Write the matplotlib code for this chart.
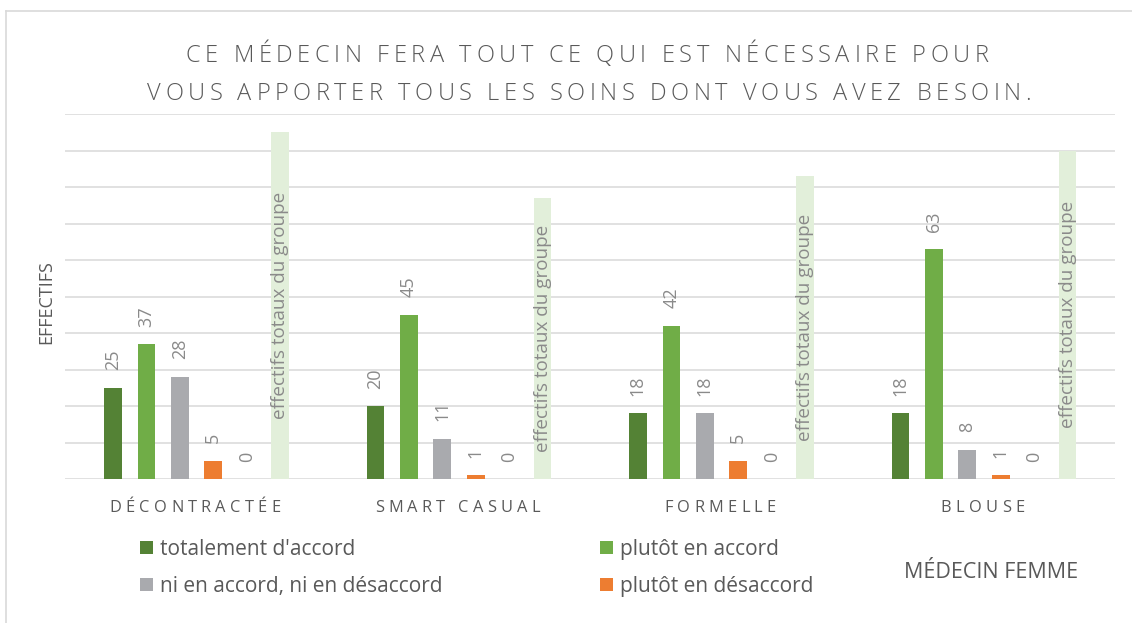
import matplotlib
matplotlib.use("Agg")
import matplotlib.pyplot as plt
from matplotlib import font_manager
from matplotlib.font_manager import FontProperties
from matplotlib.transforms import IdentityTransform
from matplotlib.patches import Patch
import numpy as np

# ---------------- data ----------------
categories = ["DÉCONTRACTÉE", "SMART CASUAL", "FORMELLE", "BLOUSE"]
series_names = ["totalement d'accord", "plutôt en accord",
                "ni en accord, ni en désaccord", "plutôt en désaccord",
                "totalement en désaccord"]
totalement_accord = [25, 20, 18, 18]
plutot_accord = [37, 45, 42, 63]
ni_accord_ni_desaccord = [28, 11, 18, 8]
plutot_desaccord = [5, 1, 5, 1]
totalement_desaccord = [0, 0, 0, 0]
effectifs_totaux = [95, 77, 83, 90]
total_label = "effectifs totaux du groupe"
title_lines = ["CE MÉDECIN FERA TOUT CE QUI EST NÉCESSAIRE POUR",
               "VOUS APPORTER TOUS LES SOINS DONT VOUS AVEZ BESOIN."]
y_label = "EFFECTIFS"
group_label = "MÉDECIN FEMME"

# ---------------- style ----------------
W, H, DPI = 1132, 623, 100
FONT = "Open Sans"
C_TEXT = "#595959"
C_VAL = "#8a8a8a"
C_GRID = "#d9d9d9"
colors = ["#548235", "#70ad47", "#a9aaae", "#ed7d31", "#a5a5a5"]
C_TOTAL = "#e2efda"

plt.rcParams["font.family"] = [FONT, "DejaVu Sans"]

fig = plt.figure(figsize=(W / DPI, H / DPI), dpi=DPI)
fig.patch.set_facecolor("white")

# plot area in pixels (from top-left)
PL, PR, PT, PB = 65.25, 1115.25, 114, 479
ax = fig.add_axes([PL / W, 1 - PB / H, (PR - PL) / W, (PB - PT) / H])

n_groups = len(categories)
x = np.arange(n_groups)
step = 0.1276
bw = 0.0667
all_series = [totalement_accord, plutot_accord, ni_accord_ni_desaccord,
              plutot_desaccord, totalement_desaccord]

ax.set_xlim(-0.5, n_groups - 0.5)
ax.set_ylim(0, 100)
ax.set_yticks(np.arange(0, 101, 10))
ax.yaxis.grid(True, color=C_GRID, linewidth=1.1)
ax.set_axisbelow(True)
for sp in ax.spines.values():
    sp.set_visible(False)
ax.tick_params(left=False, bottom=False, labelleft=False, labelbottom=False)

for k, vals in enumerate(all_series):
    off = (k - 2.5) * step
    ax.bar(x + off, vals, width=bw, color=colors[k], label=series_names[k], zorder=2)
    for xi, v in zip(x + off, vals):
        ax.annotate(str(v), (xi, v), xytext=(0, 12.5), textcoords="offset points",
                    rotation=90, ha="center", va="bottom", color=C_VAL, fontsize=13)

off_t = 2.5 * step
ax.bar(x + off_t, effectifs_totaux, width=bw, color=C_TOTAL, zorder=2)
for xi, v in zip(x + off_t, effectifs_totaux):
    ax.text(xi, v / 2, total_label, rotation=90, ha="center", va="center",
            color=C_VAL, fontsize=13.6, zorder=3)


# ---------------- letter-spaced text helper ----------------
def advances(s, fp):
    font = font_manager.get_font(font_manager.findfont(fp))
    font.set_size(fp.get_size_in_points(), DPI)
    out = []
    for ch in s:
        g = font.load_char(ord(ch))
        out.append(g.linearHoriAdvance / 65536)
    return out


def spaced_text(s, cx, y_base, fp, spacing=None, width=None, color=C_TEXT):
    """cx, y_base in display pixels (origin bottom-left)."""
    adv = advances(s, fp)
    if spacing is None:
        spacing = (width - sum(adv)) / (len(s) - 1)
    total = sum(adv) + spacing * (len(s) - 1)
    xx = cx - total / 2
    for ch, a in zip(s, adv):
        fig.text(xx, y_base, ch, fontproperties=fp, color=color,
                 ha="left", va="baseline", transform=IdentityTransform())
        xx += a + spacing


# title
fp_title = FontProperties(family=FONT, size=17, weight="light")
spaced_text(title_lines[0], 587, H - 62, fp_title, width=803)
spaced_text(title_lines[1], 589, H - 100, fp_title, width=884)

# category labels
fp_cat = FontProperties(family=FONT, size=11.8)
for i, c in enumerate(categories):
    px = ax.transData.transform((i, 0))[0]
    spaced_text(c, px - 1.5, H - 512, fp_cat, spacing=4.3)

# y label
fig.text(46 / W, 1 - 302 / H, y_label, rotation=90, ha="center", va="center",
         color=C_TEXT, fontsize=13)

# legend
order = [0, 2, 1, 3]
leg_handles = [Patch(facecolor=colors[k], edgecolor="none") for k in order]
leg_labels = [series_names[k] for k in order]
leg = fig.legend(leg_handles, leg_labels, ncol=2, loc="upper left",
                 bbox_to_anchor=(140 / W, 1 - 539 / H), frameon=False,
                 fontsize=15, handlelength=0.62, handleheight=0.62,
                 handletextpad=0.32, columnspacing=7.6, labelspacing=0.75,
                 borderpad=0, borderaxespad=0, labelcolor=C_TEXT)

fig.text(991 / W, 1 - 572 / H, group_label, ha="center", va="center",
         color=C_TEXT, fontsize=15.5)

# outer frame (top and left edges visible)
fig.add_artist(plt.Line2D([6 / W, 1], [1 - 11 / H, 1 - 11 / H], color=C_GRID,
                          linewidth=1.2, transform=fig.transFigure))
fig.add_artist(plt.Line2D([6 / W, 6 / W], [0, 1 - 11 / H], color=C_GRID,
                          linewidth=1.2, transform=fig.transFigure))

fig.savefig("out.png", dpi=DPI)
